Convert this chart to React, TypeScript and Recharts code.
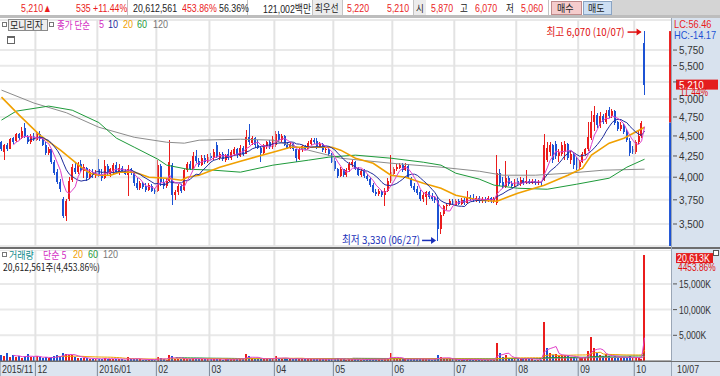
import React from 'react';
import {
  ComposedChart, Bar, Line, XAxis, YAxis, CartesianGrid, ReferenceLine, ReferenceArea, ReferenceDot,
} from 'recharts';

// ---------- DATA ----------
type C = [number, number, number, number]; // open, high, low, close
const monthLabels = ['2015/11', '12', '2016/01', '02', '03', '04', '05', '06', '07', '08', '09', '10'];

const nov15: C[] = [
  [4420, 4440, 4310, 4330], [4300, 4400, 4200, 4380], [4390, 4410, 4310, 4330], [4340, 4470, 4330, 4460],
  [4470, 4490, 4400, 4420], [4430, 4540, 4420, 4520], [4520, 4540, 4450, 4470], [4470, 4620, 4460, 4560],
  [4600, 4670, 4470, 4490], [4490, 4510, 4400, 4420], [4420, 4520, 4400, 4500], [4500, 4540, 4430, 4450],
];
const dec15: C[] = [
  [4450, 4560, 4430, 4530], [4530, 4560, 4440, 4460], [4460, 4480, 4370, 4390], [4390, 4420, 4260, 4290],
  [4290, 4360, 4260, 4340], [4330, 4340, 4150, 4180], [4180, 4200, 4030, 4050], [4060, 4100, 3920, 3950],
  [3950, 3980, 3840, 3870], [3760, 3780, 3560, 3580], [3580, 3760, 3530, 3740], [3760, 4000, 3740, 3960],
  [3970, 4150, 3950, 4120], [4110, 4160, 4040, 4060], [4060, 4180, 4040, 4150], [4150, 4200, 4060, 4080],
  [4070, 4150, 3990, 4120], [4110, 4120, 3960, 3990], [4000, 4090, 3980, 4060], [4060, 4100, 3990, 4020],
  [4010, 4080, 3990, 4040],
];
const jan16: C[] = [
  [4100, 4210, 4000, 4030], [4040, 4090, 3960, 3990], [3990, 4200, 3980, 4130], [4130, 4150, 4020, 4050],
  [4040, 4110, 4000, 4090], [4070, 4170, 4030, 4140], [4140, 4180, 4040, 4060], [4060, 4150, 4030, 4110],
  [4110, 4130, 4050, 4070], [4070, 4100, 4020, 4040], [4030, 4140, 3790, 4100], [4100, 4110, 4030, 4050],
  [4050, 4060, 3900, 3930], [3940, 3990, 3860, 3880], [3880, 3960, 3860, 3940], [3940, 3950, 3870, 3890],
  [3900, 3930, 3840, 3860], [3860, 3930, 3850, 3910], [3900, 3920, 3830, 3850], [3860, 3880, 3810, 3840],
];
const feb16: C[] = [
  [3850, 4200, 3840, 4140], [4130, 4150, 3900, 3950], [3950, 3980, 3870, 3900], [3900, 3990, 3880, 3960],
  [3960, 4450, 3950, 4180], [4140, 4160, 3690, 3800], [3800, 3860, 3750, 3840], [3830, 3920, 3800, 3900],
  [3900, 3920, 3820, 3850], [3860, 4100, 3850, 4080], [4080, 4180, 4060, 4150], [4150, 4190, 4080, 4100],
  [4100, 4300, 4090, 4250], [4250, 4320, 4170, 4190], [4190, 4230, 4120, 4140], [4140, 4260, 4130, 4220],
  [4220, 4260, 4150, 4180], [4180, 4270, 4160, 4240],
];
const mar16: C[] = [
  [4250, 4290, 4200, 4220], [4220, 4330, 4200, 4300], [4380, 4420, 4220, 4240], [4230, 4300, 4200, 4280],
  [4280, 4300, 4190, 4210], [4200, 4280, 4180, 4260], [4270, 4340, 4200, 4220], [4220, 4320, 4200, 4300],
  [4280, 4360, 4250, 4330], [4330, 4350, 4230, 4260], [4250, 4380, 4240, 4350], [4350, 4370, 4250, 4280],
  [4280, 4580, 4270, 4490], [4490, 4650, 4380, 4420], [4410, 4500, 4390, 4470], [4470, 4490, 4350, 4380],
  [4390, 4450, 4330, 4350], [4350, 4370, 4180, 4290], [4290, 4400, 4270, 4380], [4370, 4440, 4340, 4420],
  [4420, 4450, 4330, 4360], [4360, 4500, 4340, 4460],
];
const apr16: C[] = [
  [4380, 4560, 4360, 4530], [4530, 4570, 4420, 4450], [4450, 4520, 4420, 4500], [4500, 4510, 4370, 4390],
  [4390, 4420, 4330, 4350], [4350, 4420, 4330, 4400], [4400, 4410, 4310, 4330], [4330, 4340, 4180, 4220],
  [4210, 4350, 4200, 4330], [4320, 4390, 4300, 4370], [4370, 4390, 4320, 4340], [4340, 4430, 4330, 4410],
  [4400, 4470, 4380, 4450], [4450, 4480, 4400, 4420], [4430, 4470, 4340, 4360], [4360, 4420, 4350, 4400],
  [4400, 4410, 4300, 4320], [4320, 4360, 4290, 4340], [4340, 4360, 4250, 4270], [4270, 4290, 4160, 4180],
];
const may16: C[] = [
  [4190, 4220, 4070, 4090], [4090, 4110, 3990, 4010], [4010, 4120, 4000, 4090], [4090, 4100, 4000, 4020],
  [4020, 4110, 4000, 4080], [4080, 4180, 4060, 4150], [4140, 4200, 4120, 4180], [4180, 4190, 4080, 4100],
  [4100, 4120, 4010, 4030], [4030, 4090, 4000, 4070], [4070, 4090, 3990, 4010], [4010, 4040, 3960, 3980],
  [3980, 4000, 3890, 3910], [3910, 3930, 3820, 3840], [3840, 3870, 3790, 3810], [3810, 3870, 3790, 3850],
  [3850, 3860, 3780, 3800], [3800, 3880, 3680, 3850], [3850, 3990, 3830, 3960], [3960, 4260, 3940, 4060],
];
const jun16: C[] = [
  [4040, 4120, 4020, 4100], [4100, 4150, 4070, 4120], [4110, 4170, 4090, 4140], [4140, 4160, 4060, 4080],
  [4080, 4160, 4070, 4130], [4130, 4150, 3980, 4000], [3990, 4000, 3880, 3900], [3900, 3930, 3840, 3860],
  [3870, 3900, 3800, 3820], [3830, 3860, 3740, 3760], [3760, 3830, 3730, 3800], [3780, 3850, 3700, 3830],
  [3830, 3850, 3760, 3780], [3790, 3820, 3740, 3760], [3770, 3790, 3720, 3750], [3750, 3780, 3330, 3450],
  [3450, 3620, 3400, 3590], [3600, 3700, 3580, 3680], [3680, 3720, 3640, 3700], [3700, 3760, 3680, 3740],
  [3740, 3760, 3690, 3710],
];
const jul16: C[] = [
  [3700, 3760, 3680, 3740], [3740, 3760, 3690, 3710], [3710, 3770, 3700, 3750], [3750, 3770, 3700, 3720],
  [3720, 3850, 3710, 3780], [3780, 3800, 3740, 3760], [3770, 3810, 3730, 3750], [3750, 3790, 3730, 3770],
  [3770, 3790, 3720, 3740], [3740, 3780, 3720, 3760], [3760, 3780, 3720, 3740], [3740, 3790, 3730, 3770],
  [3770, 3780, 3720, 3740], [3740, 3780, 3720, 3760], [3720, 4260, 3700, 4050], [4050, 4100, 3900, 3940],
  [3950, 4000, 3880, 3900], [3890, 4190, 3880, 3990], [3990, 4010, 3900, 3920], [3930, 3960, 3880, 3900],
  [3900, 3980, 3890, 3950],
];
const aug16: C[] = [
  [3960, 3990, 3900, 3920], [3920, 4000, 3900, 3970], [3970, 3990, 3910, 3930], [3930, 4080, 3920, 3960],
  [3960, 3980, 3920, 3940], [3940, 3980, 3920, 3960], [3960, 3980, 3910, 3930], [3930, 3970, 3910, 3950],
  [3950, 3960, 3900, 3930], [3980, 4530, 3960, 4380], [4200, 4420, 4180, 4350], [4300, 4420, 4250, 4380],
  [4380, 4400, 4170, 4200], [4400, 4440, 4210, 4250], [4250, 4330, 4180, 4300], [4280, 4420, 4250, 4380],
  [4300, 4430, 4200, 4400], [4400, 4410, 4200, 4230], [4200, 4310, 4150, 4280], [4280, 4300, 4100, 4140],
  [4220, 4240, 4080, 4110],
];
const sep16: C[] = [
  [4120, 4200, 4100, 4180], [4180, 4300, 4160, 4280], [4280, 4350, 4250, 4330], [4330, 4680, 4310, 4490],
  [4480, 4830, 4450, 4680], [4680, 4900, 4560, 4780], [4780, 4810, 4600, 4640], [4630, 4820, 4600, 4760],
  [4760, 4790, 4650, 4680], [4680, 4850, 4660, 4800], [4840, 4890, 4740, 4760], [4760, 4860, 4740, 4830],
  [4830, 4840, 4640, 4670], [4680, 4700, 4560, 4590], [4590, 4680, 4560, 4640], [4640, 4660, 4520, 4550],
  [4560, 4590, 4420, 4450], [4440, 4470, 4250, 4290], [4340, 4370, 4270, 4300],
];
const oct16: C[] = [
  [4300, 4450, 4280, 4420], [4420, 4560, 4400, 4500], [4500, 4700, 4480, 4675], [5870, 6070, 5060, 5210],
];
const months: C[][] = [nov15, dec15, jan16, feb16, mar16, apr16, may16, jun16, jul16, aug16, sep16, oct16];

// volume in thousands of shares
const volNov = [1200, 900, 1500, 800, 1100, 700, 900, 650, 1000, 1300, 800, 700];
const volDec = [900, 700, 600, 800, 500, 700, 900, 1100, 1000, 1600, 1400, 1200, 1100, 700, 600, 650, 500, 550, 450, 400, 380];
const volJan = [450, 400, 600, 400, 350, 450, 380, 400, 300, 280, 700, 350, 420, 380, 300, 280, 260, 250, 300, 240];
const volFeb = [700, 500, 300, 280, 1100, 900, 400, 350, 300, 500, 450, 350, 600, 450, 350, 400, 320, 380];
const volMar = [350, 400, 450, 300, 280, 320, 400, 350, 420, 380, 450, 400, 1300, 1000, 500, 400, 380, 550, 400, 420, 350, 480];
const volApr = [900, 600, 450, 500, 380, 350, 330, 600, 450, 400, 300, 350, 420, 380, 400, 350, 300, 320, 350, 400];
const volMay = [450, 500, 350, 300, 280, 380, 400, 300, 350, 250, 280, 300, 450, 400, 300, 350, 300, 500, 600, 1500];
const volJun = [500, 400, 350, 300, 300, 400, 450, 380, 350, 420, 350, 400, 300, 280, 300, 1100, 800, 500, 350, 300, 300];
const volJul = [300, 250, 280, 250, 450, 300, 250, 230, 220, 250, 230, 220, 240, 250, 3500, 1500, 800, 1200, 600, 400, 350];
const volAug = [400, 500, 350, 600, 350, 300, 280, 260, 250, 7600, 2500, 1500, 1200, 1300, 900, 1100, 1200, 900, 800, 700, 650];
const volSep = [500, 600, 700, 2000, 4700, 2500, 1500, 1200, 900, 1300, 1000, 800, 900, 700, 600, 800, 700, 900, 600];
const volOct = [500, 550, 463, 20613];
const volMonths = [volNov, volDec, volJan, volFeb, volMar, volApr, volMay, volJun, volJul, volAug, volSep, volOct];

// long moving averages: [candle index, value]
const ma20Read: [number, number][] = [
  [0, 5027], [6, 4775], [13, 4510], [20, 4321], [27, 4116], [30, 4046], [33, 4023], [37, 4023], [40, 4058],
  [45, 4058], [50, 4000], [56, 3989], [61, 3966], [63, 4000], [67, 4023], [74, 4116], [81, 4187], [92, 4296],
  [98, 4358], [107, 4358], [112, 4358], [115, 4321], [120, 4223], [126, 4163], [132, 4023], [137, 4000],
  [143, 3932], [149, 3876], [154, 3800], [162, 3746], [168, 3735], [175, 3822], [184, 3910], [192, 4023],
  [197, 4105], [200, 4260], [206, 4408], [211, 4471], [218, 4613],
];
const ma60Read: [number, number][] = [
  [0, 4708], [5, 4830], [16, 4900], [24, 4843], [33, 4675], [39, 4471], [45, 4358], [53, 4211], [56, 4140],
  [63, 4093], [72, 4081], [81, 4058], [92, 4140], [104, 4199], [111, 4236], [120, 4260], [132, 4223],
  [143, 4175], [149, 4140], [154, 4046], [162, 3978], [167, 3910], [175, 3876], [185, 3865], [195, 3921],
  [206, 3989], [212, 4116], [218, 4211],
];
const ma120Read: [number, number][] = [
  [0, 5129], [11, 4943], [22, 4808], [33, 4613], [45, 4483], [56, 4420], [62, 4408], [67, 4446], [81, 4458],
  [92, 4446], [104, 4321], [115, 4223], [132, 4163], [149, 4116], [162, 4069], [170, 4023], [181, 4023],
  [192, 4046], [204, 4081], [218, 4093],
];

const priceTicks = [3500, 3750, 4000, 4250, 4500, 4750, 5000, 5250, 5500, 5750];
const volTicks = [5000, 10000, 15000];
const hiDate = '10/07';
const loDate = '06/27';
const lastVolumeShares = 20612561;
const volRatio = '4,453.86%';

// ---------- DERIVED ----------
const candles: C[] = months.flat();
const volumes: number[] = volMonths.flat();
const monthStarts: number[] = [];
months.reduce((acc, m) => { monthStarts.push(acc); return acc + m.length; }, 0);
const closes = candles.map((c) => c[3]);
const sma = (arr: number[], n: number, i: number) => {
  if (i < n - 1) return null;
  let s = 0;
  for (let k = i - n + 1; k <= i; k++) s += arr[k];
  return s / n;
};
const lookup = (pts: [number, number][]) => {
  const m = new Map(pts);
  return (i: number) => (m.has(i) ? (m.get(i) as number) : null);
};
const m20 = lookup(ma20Read), m60 = lookup(ma60Read), m120 = lookup(ma120Read);
const rows = candles.map(([o, h, l, c], i) => ({
  i, o, h, l, c, hl: [l, h], up: c >= o, volUp: i === 0 ? c >= o : c >= closes[i - 1],
  ma5: sma(closes, 5, i), ma10: sma(closes, 10, i), ma20: m20(i), ma60: m60(i), ma120: m120(i),
  vol: volumes[i], vma5: sma(volumes, 5, i), vma20: sma(volumes, 20, i), vma60: sma(volumes, 60, i), vma120: sma(volumes, 120, i),
}));
const N = rows.length;
const last = rows[N - 1];
const prevClose = rows[N - 2].c;
const hiVal = Math.max(...candles.map((c) => c[1]));
const loVal = Math.min(...candles.map((c) => c[2]));
const hiIdx = candles.findIndex((c) => c[1] === hiVal);
const loIdx = candles.findIndex((c) => c[2] === loVal);
const lcPct = ((last.c / loVal - 1) * 100).toFixed(2);
const hcPct = ((last.c / hiVal - 1) * 100).toFixed(2);
const chgPct = ((last.c / prevClose - 1) * 100).toFixed(2);

// ---------- STYLE ----------
const FONT = '"Liberation Sans", "Noto Sans CJK KR", sans-serif';
const KFONT = '"Noto Sans CJK KR", "Liberation Sans", sans-serif';
const RED = '#ea1c1c';
const BLUE = '#1c52d4';
const PANEL = '#d8e2ee';
const X_DOMAIN: [number, number] = [-0.5, 227.3];
const Y_DOMAIN: [number, number] = [3287, 6265];
const V_DOMAIN: [number, number] = [0, 21600];
const fmt = (v: number) => v.toLocaleString('en-US');

// condensed svg text
const ST = ({ x, y, s = 0.85, size = 11, fill = '#333', anchor = 'start', font = FONT, children }: any) => (
  <text transform={`translate(${x},${y}) scale(${s},1)`} fontSize={size} fill={fill} fontFamily={font} textAnchor={anchor}>{children}</text>
);

const Candle = (p: any) => {
  const { x, y, width, height, payload } = p;
  if (!payload) return null;
  const top = Math.min(y, y + height);
  const hgt = Math.abs(height);
  const lh = Math.log(payload.h), ll = Math.log(payload.l);
  const py = (v: number) => (lh === ll ? top : top + (hgt * (lh - Math.log(v))) / (lh - ll));
  const cx = x + width / 2;
  const yo = py(payload.o), yc = py(payload.c);
  const bt = Math.min(yo, yc), bb = Math.max(yo, yc);
  const col = payload.up ? RED : BLUE;
  return (
    <g shapeRendering="crispEdges">
      <rect x={Math.round(cx - 0.5)} y={top} width={1} height={Math.max(hgt, 1)} fill={col} />
      <rect x={Math.round(cx - 1)} y={bt} width={2} height={Math.max(bb - bt, 1)} fill={col} />
    </g>
  );
};

const VolBar = (p: any) => {
  const { x, y, width, height, payload } = p;
  if (!payload) return null;
  const cx = x + width / 2;
  return <rect shapeRendering="crispEdges" x={Math.round(cx - 1)} y={y} width={2} height={Math.max(height, 1)} fill={payload.volUp ? RED : BLUE} />;
};

const PriceTick = (p: any) => {
  const { x, y, payload } = p;
  const hidden = Math.abs(Math.log(payload.value / last.c)) < 0.02; // covered by current price box
  return (
    <g>
      <line x1={x + 1} x2={x + 5} y1={y} y2={y} stroke="#555" />
      {!hidden && <ST x={x + 7} y={y + 4} s={0.9}>{fmt(payload.value)}</ST>}
    </g>
  );
};
const VolTick = (p: any) => {
  const { x, y, payload } = p;
  return (
    <g>
      <line x1={x + 1} x2={x + 5} y1={y} y2={y} stroke="#555" />
      <ST x={x + 7} y={y + 4} s={0.78}>{fmt(payload.value)}K</ST>
    </g>
  );
};
const monthTicks = monthStarts.map((s) => s - 0.5);
const MonthTick = (p: any) => {
  const { x, y, payload } = p;
  const k = monthTicks.indexOf(payload.value);
  return (
    <g>
      <line x1={x} x2={x} y1={y} y2={y + 15} stroke="#7d8898" />
      <ST x={x + 2} y={y + 12} s={0.8}>{monthLabels[k]}</ST>
    </g>
  );
};

const Abs = ({ x, y, children, color = '#222', size = 11, font = FONT, sx = 0.8, lh = 12, style = {} }: any) => (
  <div style={{
    position: 'absolute', left: x, top: y, fontSize: size, color, fontFamily: font, whiteSpace: 'nowrap',
    lineHeight: `${lh}px`, transform: `scaleX(${sx})`, transformOrigin: 'left top', ...style,
  }}>{children}</div>
);
const Box = ({ x, y, w, h, bg, border, style = {} }: any) => (
  <div style={{ position: 'absolute', left: x, top: y, width: w, height: h, background: bg, border, boxSizing: 'border-box', ...style }} />
);

export default function App() {
  return (
    <div style={{ position: 'absolute', left: 0, top: 0, width: 720, height: 376, background: '#fff', overflow: 'hidden', fontFamily: FONT }}>
      {/* backgrounds */}
      <Box x={672} y={18} w={48} h={343} bg={PANEL} />
      <Box x={0} y={361} w={720} h={15} bg="#dce5f0" />
      <Box x={0} y={0} w={720} h={16} bg="#fff" />
      <Box x={612} y={0} w={108} h={16} bg="#d4d4d4" />
      <Box x={0} y={15} w={720} h={3} bg="#bdbdbd" />

      {/* price chart */}
      <div style={{ position: 'absolute', left: 0, top: 18 }}>
        <ComposedChart width={720} height={230} data={rows} margin={{ top: 2, right: 0, bottom: 2, left: 0 }}>
          <CartesianGrid vertical={false} stroke="#e9e9e9" strokeWidth={2} />
          <XAxis type="number" dataKey="i" domain={X_DOMAIN} allowDataOverflow hide />
          <YAxis orientation="right" scale="log" domain={Y_DOMAIN} allowDataOverflow ticks={priceTicks} interval={0}
            width={48} tickLine={false} axisLine={false} tickSize={0} tickMargin={0} tick={<PriceTick />} />
          {monthStarts.slice(1).map((s) => (
            <ReferenceLine key={s} x={s - 0.5} stroke="#e3e3e3" strokeWidth={2} />
          ))}
          <Line dataKey="ma120" stroke="#8c8c8c" strokeWidth={1} dot={false} connectNulls isAnimationActive={false} />
          <Line dataKey="ma60" stroke="#1e9a3a" strokeWidth={1} dot={false} connectNulls isAnimationActive={false} />
          <Line dataKey="ma20" stroke="#f0a000" strokeWidth={1.6} dot={false} connectNulls isAnimationActive={false} />
          <Bar dataKey="hl" barSize={3} shape={<Candle />} isAnimationActive={false} />
          <Line dataKey="ma10" stroke="#1f2c9c" strokeWidth={1} dot={false} isAnimationActive={false} />
          <Line dataKey="ma5" stroke="#e040c8" strokeWidth={1} dot={false} isAnimationActive={false} />
          <ReferenceArea x1={226.3} x2={227.0} y1={prevClose} y2={hiVal} fill={RED} fillOpacity={1} stroke="none" />
          <ReferenceArea x1={226.3} x2={227.0} y1={Y_DOMAIN[0]} y2={prevClose} fill={BLUE} fillOpacity={1} stroke="none" />
          <ReferenceDot x={hiIdx} y={hiVal} r={0} fill="none" stroke="none"
            label={(lp: any) => {
              const vb = lp.viewBox || {};
              const cx = vb.x + (vb.width || 0) / 2, cy = vb.y + (vb.height || 0) / 2 + 1;
              return (
                <g>
                  <ST x={cx - 20} y={cy + 4} s={0.88} anchor="end" fill="#e01010" font={KFONT}>{`최고 ${fmt(hiVal)} (${hiDate})`}</ST>
                  <line x1={cx - 17} x2={cx - 4} y1={cy} y2={cy} stroke="#e01010" strokeWidth={1.5} />
                  <path d={`M${cx - 3},${cy} l-5,-3.5 l0,7 z`} fill="#e01010" />
                </g>
              );
            }} />
          <ReferenceDot x={loIdx} y={loVal} r={0} fill="none" stroke="none"
            label={(lp: any) => {
              const vb = lp.viewBox || {};
              const cx = vb.x + (vb.width || 0) / 2, cy = vb.y + (vb.height || 0) / 2 - 1;
              return (
                <g>
                  <ST x={cx - 18} y={cy + 4} s={0.88} anchor="end" fill="#1a2fb8" font={KFONT}>{`최저 ${fmt(loVal)} (${loDate})`}</ST>
                  <line x1={cx - 16} x2={cx - 4} y1={cy} y2={cy} stroke="#1a2fb8" strokeWidth={1.5} />
                  <path d={`M${cx - 2},${cy} l-5,-3.5 l0,7 z`} fill="#1a2fb8" />
                </g>
              );
            }} />
          <ReferenceLine y={last.c} stroke="none"
            label={(lp: any) => {
              const vb = lp.viewBox || {};
              const rx = vb.x + vb.width + 4, cy = vb.y;
              return (
                <g>
                  <rect x={rx} y={cy - 5} width={42} height={10} fill="#e41e1e" />
                  <ST x={rx + 3} y={cy + 4} s={0.9} fill="#fff">{fmt(last.c)}</ST>
                  <ST x={rx + 4} y={cy + 11} s={0.85} size={10} fill="#e01010">{chgPct}%</ST>
                </g>
              );
            }} />
        </ComposedChart>
      </div>

      {/* separator between panels */}
      <Box x={0} y={247} w={720} h={2} bg="#6e6e6e" />

      {/* volume chart */}
      <div style={{ position: 'absolute', left: 0, top: 250 }}>
        <ComposedChart width={720} height={126} data={rows} margin={{ top: 0, right: 0, bottom: 0, left: 0 }}>
          <CartesianGrid vertical={false} stroke="#e9e9e9" strokeWidth={2} />
          <XAxis type="number" dataKey="i" domain={X_DOMAIN} allowDataOverflow ticks={monthTicks} interval={0}
            height={15} tickLine={false} tickSize={0} tickMargin={0} axisLine={{ stroke: '#6e6e6e' }} tick={<MonthTick />} />
          <YAxis orientation="right" domain={V_DOMAIN} allowDataOverflow ticks={volTicks} interval={0}
            width={48} tickLine={false} axisLine={false} tickSize={0} tickMargin={0} tick={<VolTick />} />
          {monthStarts.slice(1).map((s) => (
            <ReferenceLine key={s} x={s - 0.5} stroke="#e3e3e3" strokeWidth={2} />
          ))}
          <Bar dataKey="vol" barSize={3} shape={<VolBar />} isAnimationActive={false} />
          <Line dataKey="vma120" stroke="#8c8c8c" strokeWidth={1} dot={false} isAnimationActive={false} />
          <Line dataKey="vma60" stroke="#1e9a3a" strokeWidth={1} dot={false} isAnimationActive={false} />
          <Line dataKey="vma20" stroke="#f0a000" strokeWidth={1} dot={false} isAnimationActive={false} />
          <Line dataKey="vma5" stroke="#e040c8" strokeWidth={1} dot={false} isAnimationActive={false} />
          <ReferenceLine y={last.vol} stroke="none"
            label={(lp: any) => {
              const vb = lp.viewBox || {};
              const rx = vb.x + vb.width + 4, cy = vb.y + 3;
              return (
                <g>
                  <rect x={rx} y={cy - 5} width={37} height={10} fill="#e41e1e" />
                  <ST x={rx + 1} y={cy + 4} s={0.8} fill="#fff">{fmt(last.vol)}K</ST>
                  <ST x={rx + 2} y={cy + 13} s={0.76} fill="#e01010">{volRatio.replace(',', '')}</ST>
                </g>
              );
            }} />
        </ComposedChart>
      </div>

      {/* panel borders */}
      <Box x={671} y={18} w={1} h={358} bg="#9aa6b6" />
      <Box x={0} y={361} w={720} h={1} bg="#6e6e6e" />
      <Abs x={677} y={363} color="#333" sx={0.8}>{hiDate}</Abs>
      <Box x={713} y={250} w={6} h={6} bg="#fff" border="1px solid #555" />

      {/* header row */}
      {[127, 247, 312, 342, 413, 548].map((x) => <Box key={x} x={x} y={0} w={1} h={15} bg="#c4c4c4" />)}
      <Box x={313} y={0} w={29} h={15} bg="#ececec" />
      <Box x={414} y={0} w={12} h={15} bg="#ececec" />
      <Abs x={21} y={2} color={RED}>{fmt(last.c)}▲</Abs>
      <Abs x={76} y={2} color={RED}>{fmt(last.c - prevClose)}</Abs>
      <Abs x={93} y={2} color={RED}>+{chgPct}%</Abs>
      <Abs x={133} y={2}>{fmt(lastVolumeShares)}</Abs>
      <Abs x={182} y={2} color={RED}>453.86%</Abs>
      <Abs x={219} y={2}>56.36%</Abs>
      <Abs x={263} y={2}>121,002<span style={{ fontFamily: KFONT, fontSize: 11 }}>백만</span></Abs>
      <Abs x={315} y={2} font={KFONT} size={10} sx={0.85}>최우선</Abs>
      <Abs x={347} y={2} color={RED}>5,220</Abs>
      <Abs x={387} y={2} color={RED}>{fmt(last.c)}</Abs>
      <Abs x={416} y={2} font={KFONT} size={10} sx={0.85}>시</Abs>
      <Abs x={431} y={2} color={RED}>{fmt(last.o)}</Abs>
      <Abs x={460} y={2} font={KFONT} size={10} sx={0.85}>고</Abs>
      <Abs x={475} y={2} color={RED}>{fmt(last.h)}</Abs>
      <Abs x={506} y={2} font={KFONT} size={10} sx={0.85}>저</Abs>
      <Abs x={521} y={2} color={RED}>{fmt(last.l)}</Abs>
      <Box x={551} y={1} w={31} h={14} bg="#f5cccc" border="1px solid #c08a8a" />
      <Abs x={557} y={2} font={KFONT} size={10} sx={0.9}>매수</Abs>
      <Box x={583} y={1} w={29} h={14} bg="#cddff3" border="1px solid #8aa4c4" />
      <Abs x={588} y={2} font={KFONT} size={10} sx={0.9}>매도</Abs>

      {/* price legend */}
      <Box x={2} y={22} w={5} h={5} bg="#fff" border="1px solid #777" />
      <Box x={8} y={19} w={40} h={12} bg="#eeeeee" border="1px solid #8a8a8a" />
      <Abs x={10} y={19} font={KFONT} size={10} sx={0.9}>모니리자</Abs>
      <Box x={49} y={22} w={5} h={5} bg="#fff" border="1px solid #777" />
      <Abs x={57} y={19} font={KFONT} size={10} sx={0.85} color="#d22bc2">종가 단순</Abs>
      <Abs x={99} y={19} size={10} sx={0.9} color="#d22bc2">5</Abs>
      <Abs x={108} y={19} size={10} sx={0.9} color="#1f2c9c">10</Abs>
      <Abs x={123} y={19} size={10} sx={0.9} color="#f0a000">20</Abs>
      <Abs x={137} y={19} size={10} sx={0.9} color="#1e9a3a">60</Abs>
      <Abs x={153} y={19} size={10} sx={0.9} color="#777">120</Abs>
      <Box x={7} y={36} w={8} h={8} bg="#fff" border="1px solid #666" style={{ borderTop: '2px solid #666' }} />

      {/* LC / HC */}
      <Abs x={674} y={18} color={RED} sx={0.84}>LC:{lcPct}</Abs>
      <Abs x={674} y={29} color="#1c52d4" sx={0.84}>HC:{hcPct}</Abs>

      {/* volume legend */}
      <Box x={2} y={252} w={5} h={5} bg="#fff" border="1px solid #777" />
      <Abs x={9} y={249} font={KFONT} size={10} sx={0.9} lh={11} color="#0e8a8a">거래량</Abs>
      <Abs x={43} y={249} font={KFONT} size={10} sx={0.9} lh={11} color="#d22bc2">단순 5</Abs>
      <Abs x={73} y={249} size={10} sx={0.9} lh={11} color="#f0a000">20</Abs>
      <Abs x={88} y={249} size={10} sx={0.9} lh={11} color="#1e9a3a">60</Abs>
      <Abs x={103} y={249} size={10} sx={0.9} lh={11} color="#777">120</Abs>
      <Abs x={3} y={261} size={10} font={KFONT} sx={0.85} lh={11}>{fmt(lastVolumeShares)}주({volRatio})</Abs>
    </div>
  );
}
